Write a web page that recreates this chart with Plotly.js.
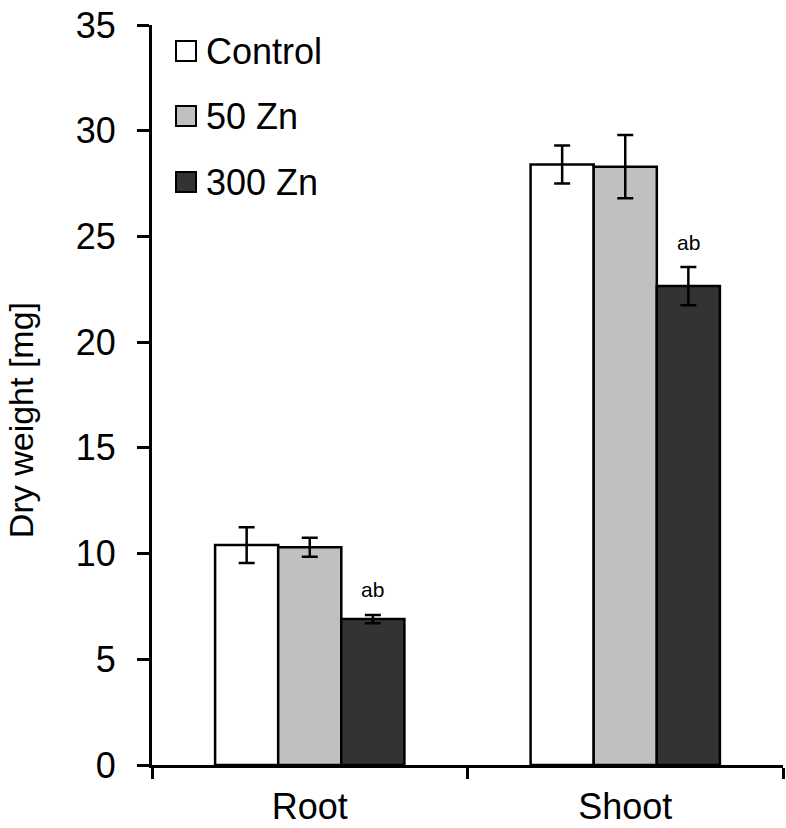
<!DOCTYPE html>
<html>
<head>
<meta charset="utf-8">
<script src="https://cdn.plot.ly/plotly-3.0.1.min.js"></script>
<style>html,body{margin:0;padding:0;background:#fff;}#chart{width:786px;height:828px;}</style>
</head>
<body>
<div id="chart"></div>
<script>
const categories = ["Root", "Shoot"];
const seriesNames = ["Control", "50 Zn", "300 Zn"];
const controlVals = [10.4, 28.4];
const controlErr = [0.85, 0.9];
const zn50Vals = [10.3, 28.3];
const zn50Err = [0.45, 1.5];
const zn300Vals = [6.9, 22.65];
const zn300Err = [0.2, 0.9];
const sigLabels = ["ab", "ab"];
const yTicks = [0, 5, 10, 15, 20, 25, 30, 35];
const yTitle = "Dry weight [mg]";

const colors = ["#ffffff", "#c0c0c0", "#333333"];
const vals = [controlVals, zn50Vals, zn300Vals];
const errs = [controlErr, zn50Err, zn300Err];
const FONT = "Liberation Sans, Arial, sans-serif";

const traces = seriesNames.map((n, i) => ({
  type: "bar",
  name: n,
  x: categories,
  y: vals[i],
  marker: {color: colors[i], line: {color: "#000", width: 2.5}},
  error_y: {type: "data", array: errs[i], visible: true, color: "#000", thickness: 2.5, width: 8},
  showlegend: false,
  hoverinfo: "skip"
}));

const annotations = categories.map((c, i) => ({
  x: c, y: zn300Vals[i] + zn300Err[i], xref: "x", yref: "y",
  text: sigLabels[i], showarrow: false, xshift: 63, yshift: 25,
  font: {family: FONT, size: 21, color: "#000"}
}));

annotations.push({xref: "paper", yref: "paper", x: 0, y: 0.466, xanchor: "center", yanchor: "middle",
  xshift: -131, text: yTitle, textangle: -90, showarrow: false,
  font: {family: FONT, size: 34, color: "#000"}});

const shapes = [];
const legendCenters = [51, 116, 182];
seriesNames.forEach((n, i) => {
  const dy = legendCenters[i] - 25;
  shapes.push({type: "rect", xref: "paper", yref: "paper", xsizemode: "pixel", ysizemode: "pixel",
    xanchor: 0, yanchor: 1, x0: 24, x1: 44, y0: -dy + 10, y1: -dy - 10,
    fillcolor: colors[i], line: {color: "#000", width: 2}});
  annotations.push({xref: "paper", yref: "paper", x: 0, y: 1, xanchor: "left", yanchor: "middle",
    xshift: 52, yshift: -dy, text: n, showarrow: false,
    font: {family: FONT, size: 36, color: "#000"}});
});

const layout = {
  width: 786, height: 828,
  margin: {l: 152, r: 3, t: 25, b: 63},
  paper_bgcolor: "#fff", plot_bgcolor: "#fff",
  barmode: "group", bargap: 0.4, bargroupgap: 0,
  showlegend: false,
  font: {family: FONT, color: "#000"},
  xaxis: {
    type: "category", showline: true, linecolor: "#000", linewidth: 3,
    ticks: "outside", tickson: "boundaries", ticklen: 11, tickwidth: 3, tickcolor: "#000",
    tickfont: {size: 36, family: FONT}, ticklabelstandoff: 8,
    showgrid: false, zeroline: false, fixedrange: true
  },
  yaxis: {
    range: [0, 35], tickvals: yTicks, showline: true, linecolor: "#000", linewidth: 3,
    ticks: "outside", ticklen: 12, tickwidth: 3, tickcolor: "#000",
    tickfont: {size: 36, family: FONT},
    ticklabelstandoff: 14,
    showgrid: false, zeroline: false
  },
  annotations: annotations,
  shapes: shapes
};

Plotly.newPlot("chart", traces, layout, {displayModeBar: false, staticPlot: true});
</script>
</body>
</html>
